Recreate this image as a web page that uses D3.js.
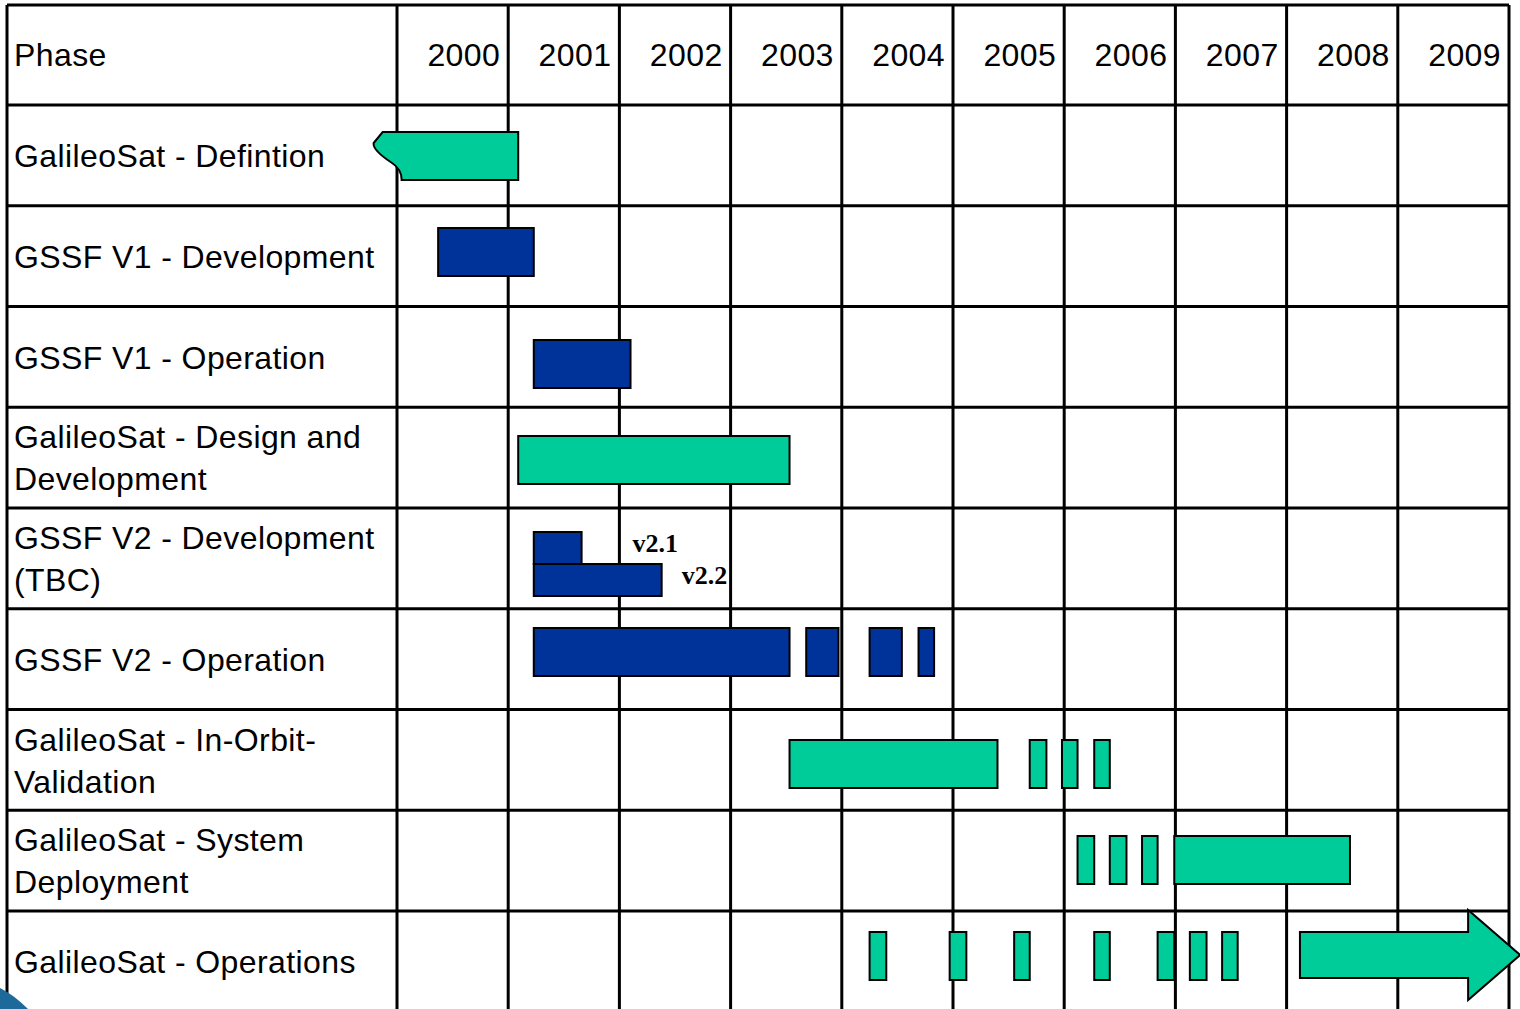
<!DOCTYPE html>
<html lang="en">
<head>
    <meta charset="UTF-8">
    <title>GalileoSat / GSSF schedule</title>
    <script src="https://d3js.org/d3.v7.min.js"></script>
    <style>
        body {
            margin: 0;
            background: #fff;
        }
        svg {
            display: block;
        }
        .label {
            font-family: "Liberation Sans", Arial, sans-serif;
            font-size: 32px;
            letter-spacing: 0.4px;
            fill: #000;
        }
        .version {
            font-family: "Liberation Serif", "Times New Roman", serif;
            font-size: 26px;
            font-weight: bold;
            fill: #000;
        }
    </style>
</head>
<body>
    <svg id="chart"></svg>

    <script>
        // Data
        const years = [2000, 2001, 2002, 2003, 2004, 2005, 2006, 2007, 2008, 2009];

        const phases = [
            ["GalileoSat - Defintion"],
            ["GSSF V1 - Development"],
            ["GSSF V1 - Operation"],
            ["GalileoSat - Design and", "Development"],
            ["GSSF V2 - Development", "(TBC)"],
            ["GSSF V2 - Operation"],
            ["GalileoSat - In-Orbit-", "Validation"],
            ["GalileoSat - System", "Deployment"],
            ["GalileoSat - Operations"]
        ];

        // [row, start, end]  (years as decimals)
        const galileoBars = [
            [3, 2001.09, 2003.53],
            [6, 2003.53, 2005.40],
            [6, 2005.69, 2005.84],
            [6, 2005.98, 2006.12],
            [6, 2006.27, 2006.41],
            [7, 2006.12, 2006.27],
            [7, 2006.41, 2006.56],
            [7, 2006.70, 2006.84],
            [7, 2006.99, 2008.57],
            [8, 2004.25, 2004.40],
            [8, 2004.97, 2005.12],
            [8, 2005.55, 2005.69],
            [8, 2006.27, 2006.41],
            [8, 2006.84, 2006.99],
            [8, 2007.13, 2007.28],
            [8, 2007.42, 2007.56]
        ];

        const gssfBars = [
            [1, 2000.37, 2001.23],
            [2, 2001.23, 2002.10],
            [5, 2001.23, 2003.53],
            [5, 2003.68, 2003.97],
            [5, 2004.25, 2004.54],
            [5, 2004.69, 2004.83]
        ];

        // GSSF V2 sub-versions (row 4)
        const versions = ["v2.1", "v2.2"];
        const versionStart = [2001.23, 2001.23];
        const versionEnd = [2001.66, 2002.38];

        // the torn definition bar (row 0) and the open-ended operations arrow (row 8)
        const definition = [0, 1999.79, 2001.09];
        const operationsArrow = [8, 2008.12, 2010.10];

        // layout
        const W = 1520, H = 1009;
        const green = "#00CC99", blue = "#003399";
        const barTop = [27, 22.25, 33.5, 28.75, 24, 19.25, 30.5, 25.75, 21];
        const barH = 48;

        const svg = d3.select("#chart")
                      .attr("width", W)
                      .attr("height", H);

        const x = d3.scaleLinear()
                    .domain([2000, 2010])
                    .range([397, 1509]);

        const y = d3.scaleBand()
                    .domain(d3.range(phases.length))
                    .range([105, 105 + 100.75 * phases.length]);

        // grid
        const grid = svg.append("g")
                        .attr("stroke", "#000")
                        .attr("stroke-width", 3);

        grid.selectAll(".hline")
            .data([5].concat(phases.map((d, i) => y(i))))
            .enter()
            .append("line")
            .attr("x1", 7)
            .attr("x2", 1509)
            .attr("y1", d => d)
            .attr("y2", d => d);

        grid.selectAll(".vline")
            .data([1999, ...years, 2010])
            .enter()
            .append("line")
            .attr("x1", d => d === 1999 ? 7 : x(d))
            .attr("x2", d => d === 1999 ? 7 : x(d))
            .attr("y1", 5)
            .attr("y2", H);

        // header
        svg.append("text")
           .attr("class", "label")
           .attr("x", 14)
           .attr("y", 66)
           .text("Phase");

        svg.selectAll(".year")
           .data(years)
           .enter()
           .append("text")
           .attr("class", "label")
           .attr("x", d => x(d + 1) - 8)
           .attr("y", 66)
           .attr("text-anchor", "end")
           .text(d => d);

        // phase labels
        phases.forEach((lines, i) => {
            const t = svg.append("text")
                         .attr("class", "label");
            if (lines.length === 1) {
                t.append("tspan").attr("x", 14).attr("y", y(i) + 62).text(lines[0]);
            } else {
                lines.forEach((l, j) => {
                    t.append("tspan").attr("x", 14).attr("y", y(i) + 41 + j * 42).text(l);
                });
            }
        });

        // bars
        const bars = svg.append("g")
                        .attr("stroke", "#000")
                        .attr("stroke-width", 2);

        const addBars = (data, color) => {
            bars.selectAll(null)
                .data(data)
                .enter()
                .append("rect")
                .attr("x", d => x(d[1]))
                .attr("y", d => y(d[0]) + barTop[d[0]])
                .attr("width", d => x(d[2]) - x(d[1]))
                .attr("height", barH)
                .attr("fill", color);
        };
        addBars(galileoBars, green);
        addBars(gssfBars, blue);

        // GSSF V2 development: two stacked half bars
        const vTop = y(4) + barTop[4];
        bars.selectAll(".ver")
            .data(versions)
            .enter()
            .append("rect")
            .attr("x", (d, i) => x(versionStart[i]))
            .attr("y", (d, i) => vTop + i * 32)
            .attr("width", (d, i) => x(versionEnd[i]) - x(versionStart[i]))
            .attr("height", 32)
            .attr("fill", blue);

        svg.selectAll(".version")
           .data(versions)
           .enter()
           .append("text")
           .attr("class", "version")
           .attr("x", (d, i) => x(versionEnd[i]) + [51, 20][i])
           .attr("y", (d, i) => vTop + 20 + i * 32)
           .text(d => d);

        // torn-edge definition bar
        {
            const t = y(definition[0]) + barTop[definition[0]];
            const x0 = x(definition[1]), x1 = x(definition[2]);
            const p = d3.path();
            p.moveTo(x1, t);
            p.lineTo(x0 + 9, t);
            p.lineTo(x0, t + 11);
            p.bezierCurveTo(x0 - 1, t + 17, x0 + 8, t + 24, x0 + 17, t + 30);
            p.bezierCurveTo(x0 + 25, t + 35, x0 + 28, t + 40, x0 + 28, t + barH);
            p.lineTo(x1, t + barH);
            p.closePath();
            bars.append("path").attr("d", p.toString()).attr("fill", green);
        }

        // open-ended arrow
        {
            const t = y(operationsArrow[0]) + barTop[operationsArrow[0]];
            const x0 = x(operationsArrow[1]), tip = x(operationsArrow[2]);
            const headX = tip - 52, bh = 46, mid = t + bh / 2;
            const p = d3.path();
            p.moveTo(x0, t);
            p.lineTo(headX, t);
            p.lineTo(headX, mid - 45);
            p.lineTo(tip, mid);
            p.lineTo(headX, mid + 45);
            p.lineTo(headX, t + bh);
            p.lineTo(x0, t + bh);
            p.closePath();
            bars.append("path").attr("d", p.toString()).attr("fill", green);
        }

        // corner decoration bottom-left
        svg.append("path")
           .attr("d", "M0,988 Q14,995 28,1009 L0,1009 Z")
           .attr("fill", "#1d6a9a");
    </script>
</body>
</html>
